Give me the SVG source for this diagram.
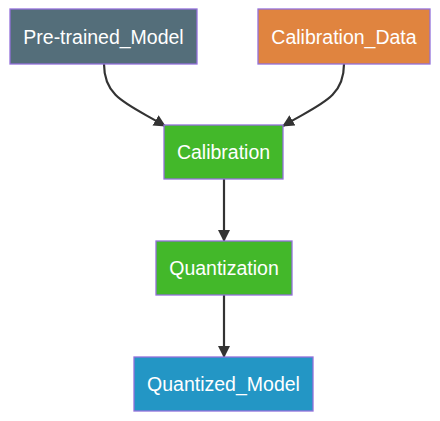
<svg xmlns="http://www.w3.org/2000/svg" width="440" height="421" viewBox="0 0 440 421">
<style>
.node rect{stroke:#9370db;stroke-width:1.3}
.node text{font-family:"Liberation Sans",Arial,sans-serif;font-size:19.5px;fill:#ffffff;text-anchor:middle;dominant-baseline:central}
.edge{fill:none;stroke:#333333;stroke-width:2.2}
</style>
<defs>
<marker id="arr" viewBox="0 0 10 10" refX="9" refY="5" markerWidth="7" markerHeight="7" markerUnits="userSpaceOnUse" orient="auto">
<path d="M0,0 L10,5 L0,10 z" fill="#333333"/>
</marker>
<marker id="ah" viewBox="0 0 12 12" refX="11" refY="6" markerWidth="12" markerHeight="12" markerUnits="userSpaceOnUse" orient="auto">
<path d="M0,0 L12,6 L0,12 z" fill="#333333"/>
</marker>
</defs>
<rect width="440" height="421" fill="#ffffff"/>
<g id="connectors">
<path class="edge" d="M104,64 C104,98 128,104 165,126" marker-end="url(#ah)"/>
<path class="edge" d="M344,64 C344,98 320,104 283,126" marker-end="url(#ah)"/>
<path class="edge" d="M224,179 L224,241" marker-end="url(#ah)"/>
<path class="edge" d="M224,295 L224,357" marker-end="url(#ah)"/>
</g>
<g id="pretrained" class="node"><rect x="10" y="9" width="187" height="55" fill="#546e7a"/><text x="103.5" y="36.5">Pre-trained_Model</text></g>
<g id="calibdata" class="node"><rect x="258" y="9" width="172" height="55" fill="#e0843f"/><text x="344" y="36.5">Calibration_Data</text></g>
<g id="calibration" class="node"><rect x="164" y="125" width="119" height="54" fill="#43b82a"/><text x="223.5" y="152">Calibration</text></g>
<g id="quantization" class="node"><rect x="156" y="241" width="136" height="54" fill="#43b82a"/><text x="224" y="268">Quantization</text></g>
<g id="quantized" class="node"><rect x="134" y="357" width="179" height="54" fill="#2396c5"/><text x="223.5" y="384">Quantized_Model</text></g>
</svg>
